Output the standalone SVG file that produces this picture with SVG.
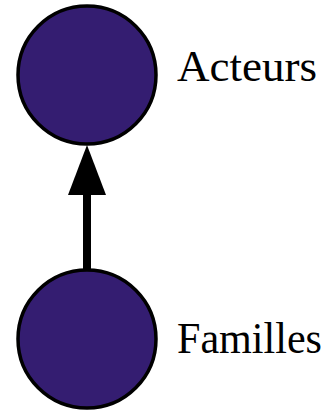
<svg xmlns="http://www.w3.org/2000/svg" width="331" height="411" viewBox="0 0 331 411">
<style>
.node{fill:#341d71;stroke:#000;stroke-width:3.5}
.label{font-family:"Liberation Serif",serif;font-size:44px;fill:#000}
.edge{stroke:#000;stroke-width:8;fill:none}
.head{fill:#000}
</style>
<g id="edges">
<line class="edge" x1="87" y1="270" x2="87" y2="195"/>
<path class="head" d="M87,145 L106,195 L68,195 Z"/>
</g>
<g id="node-acteurs">
<circle class="node" cx="87" cy="75" r="69"/>
<text class="label" x="177" y="81" textLength="140" lengthAdjust="spacingAndGlyphs">Acteurs</text>
</g>
<g id="node-familles">
<circle class="node" cx="87" cy="339" r="69"/>
<text class="label" x="177" y="353" textLength="145" lengthAdjust="spacingAndGlyphs">Familles</text>
</g>
</svg>
